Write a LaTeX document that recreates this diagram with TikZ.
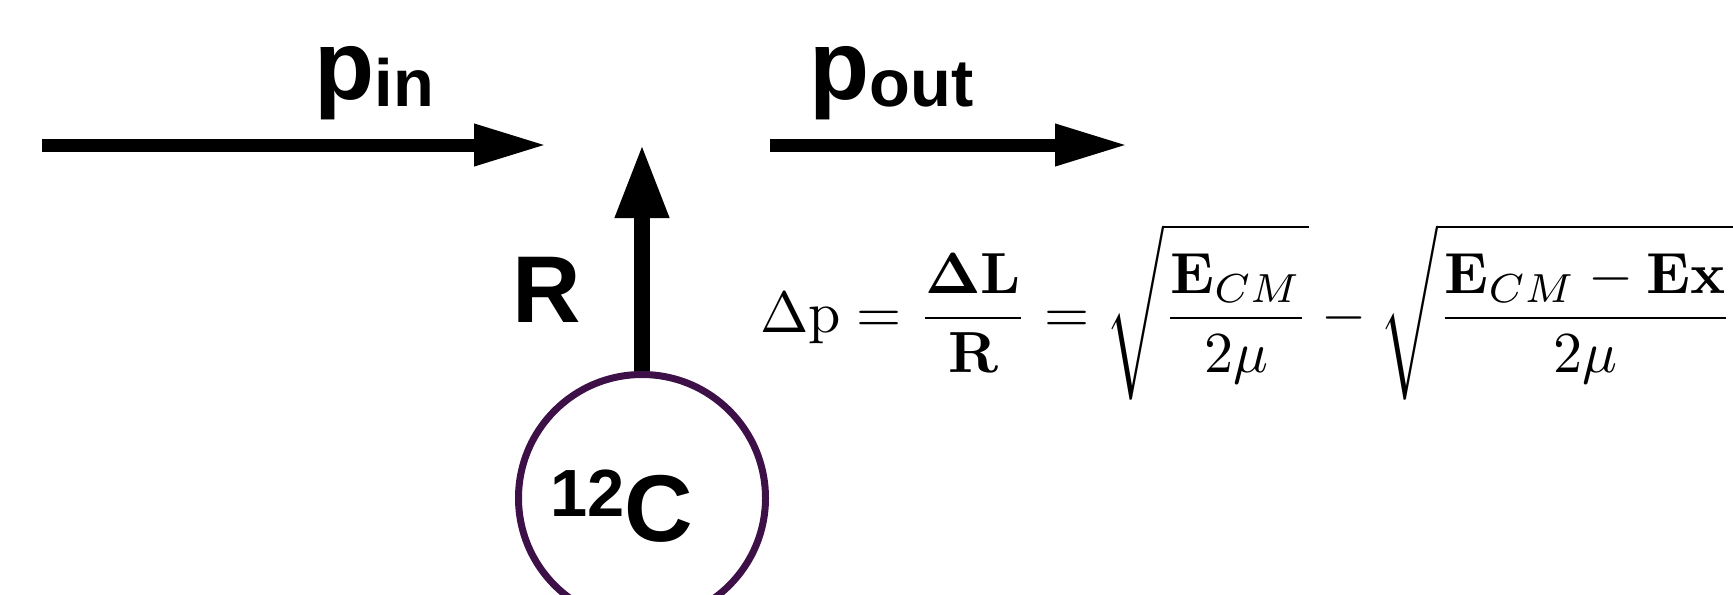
\documentclass[tikz,border=0pt]{standalone}
\usepackage[no-math]{fontspec}
\usepackage{graphicx}
\setsansfont{Liberation Sans}
\usetikzlibrary{arrows.meta, positioning}
\definecolor{ringpurple}{HTML}{3D1048}

\begin{document}
\begin{tikzpicture}[
  momentum/.style = {font=\sffamily\bfseries, anchor=base west, inner sep=0pt},
  biglabel/.style = {font=\sffamily\bfseries\fontsize{54}{60}\selectfont, anchor=base, inner sep=0pt},
  beam/.style = {line width=0.26cm, -{Triangle[length=1.46cm, width=0.78cm]}},
  radius/.style = {line width=0.32cm, -{Triangle[length=1.48cm, width=1.0cm]}},
  nucleus/.style = {draw=ringpurple, circle, line width=0.14cm, minimum size=4.94cm, inner sep=0pt}
]
  \useasboundingbox (0,0) rectangle (34.66,11.88);

  % Nodes
  \node[momentum] (pin) at (6.28,9.90) {{\fontsize{56}{60}\selectfont p}\raisebox{-0.15cm}{\fontsize{38}{40}\selectfont in}};
  \node[momentum] (pout) at (16.18,9.90) {{\fontsize{56}{60}\selectfont p}\raisebox{-0.15cm}{\fontsize{38}{40}\selectfont out}};
  \node[nucleus] (carbon) at (12.84,1.92) {};
  \node[biglabel] (carbonlabel) at (12.44,1.06) {\raisebox{0.5cm}{\fontsize{38}{40}\selectfont 12}C};
  \node[biglabel] (rlabel) at (10.94,5.44) {R};
  \node[anchor=west, inner sep=0pt] (formula) at (15.20,5.64)
    {\resizebox{19.45cm}{!}{$\displaystyle \Delta\mathrm{p} = \frac{\mathbf{\Delta L}}{\mathbf{R}} = \sqrt{\frac{\mathbf{E}_{CM}}{2\mu}} - \sqrt{\frac{\mathbf{E}_{CM}-\mathbf{Ex}}{2\mu}}$}};

  \coordinate (inStart) at (0.84,8.98);
  \coordinate (inEnd) at (10.94,8.98);
  \coordinate (outStart) at (15.40,8.98);
  \coordinate (outEnd) at (22.56,8.98);
  \coordinate (rTip) at (12.84,9.00);

  % Connections
  \draw[beam] (inStart) -- (inEnd);
  \draw[beam] (outStart) -- (outEnd);
  \draw[radius] (carbon.north) -- (rTip);

\end{tikzpicture}
\end{document}
